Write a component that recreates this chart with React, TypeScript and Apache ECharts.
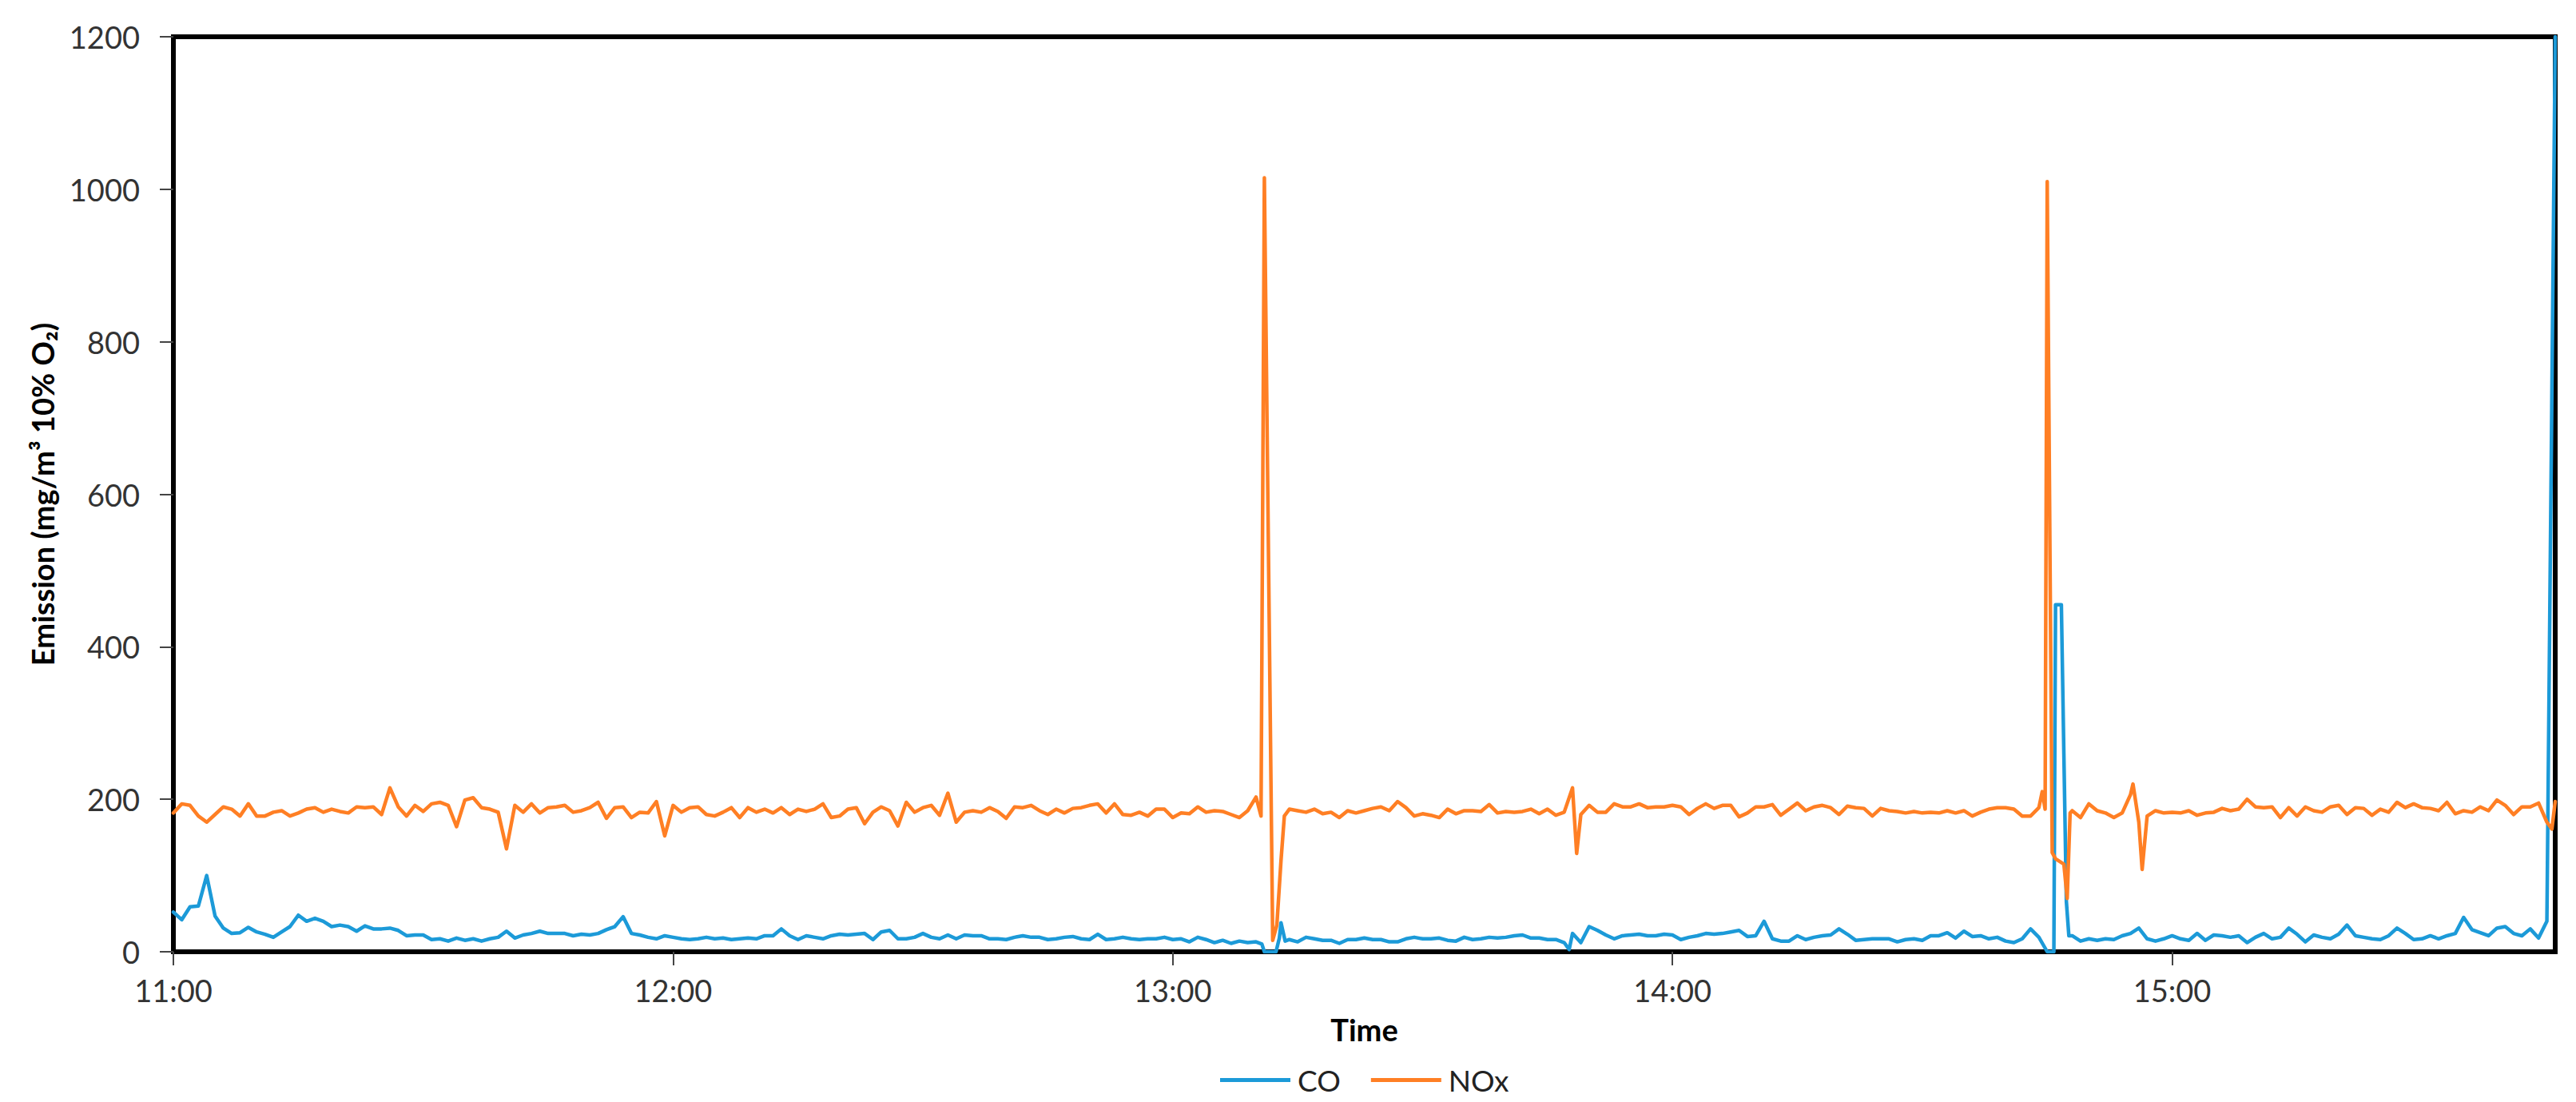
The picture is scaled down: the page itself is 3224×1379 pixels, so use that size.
import React, { useEffect, useRef } from 'react';
import * as echarts from 'echarts';

// Time axis: minutes after 11:00
const TIME_LABELS = ['11:00', '12:00', '13:00', '14:00', '15:00'];
const X_MAX_MINUTES = 286;
const Y_TICKS = [0, 200, 400, 600, 800, 1000, 1200];

// CO, one value per minute from 11:00 (index = minute)
const CO = [
  52, 42, 59, 60, 100, 47, 31, 24, 25, 32,
  26, 23, 19, 26, 33, 48, 40, 44, 40, 33,
  35, 33, 27, 34, 30, 30, 31, 28, 21, 22,
  22, 16, 17, 14, 18, 15, 17, 14, 17, 19,
  27, 18, 22, 24, 27, 24, 24, 24, 21, 23,
  22, 24, 29, 33, 46, 24, 22, 19, 17, 21,
  19, 17, 16, 17, 19, 17, 18, 16, 17, 18,
  17, 21, 21, 30, 21, 16, 21, 19, 17, 21,
  23, 22, 23, 24, 16, 26, 28, 17, 17, 19,
  24, 19, 17, 22, 17, 22, 21, 21, 17, 17,
  16, 19, 21, 19, 19, 16, 17, 19, 20, 17,
  16, 23, 16, 17, 19, 17, 16, 17, 17, 19,
  16, 17, 13, 19, 16, 12, 15, 11, 14, 12,
  13, 0, 0, 38, 16, 13, 19, 17, 15, 15,
  11, 16, 16, 18, 16, 16, 13, 13, 17, 19,
  17, 17, 18, 15, 14, 19, 16, 17, 19, 18,
  19, 21, 22, 18, 18, 16, 16, 12, 24, 12,
  33, 28, 22, 17, 21, 22, 23, 21, 21, 23,
  22, 16, 19, 21, 24, 23, 24, 26, 28, 20,
  21, 40, 17, 14, 14, 21, 16, 19, 21, 22,
  30, 23, 15, 16, 17, 17, 17, 13, 16, 17,
  15, 21, 21, 25, 18, 27, 20, 21, 17, 19,
  14, 12, 17, 30, 19, 0, 455, 260, 21, 14,
  17, 15, 17, 16, 21, 24, 31, 17, 14, 17,
  21, 17, 15, 24, 15, 22, 21, 19, 21, 12,
  19, 24, 17, 19, 31, 23, 13, 22, 19, 17,
  23, 35, 21, 19, 17, 16, 21, 31, 24, 16,
  17, 21, 17, 21, 24, 45, 29, 25, 21, 31,
  33, 24, 21, 30, 18, 40, 1200,
];

// NOx, one value per minute from 11:00 (index = minute)
const NOX = [
  182, 194, 192, 178, 170, 180, 190, 187, 178, 194,
  178, 178, 183, 185, 178, 182, 187, 189, 183, 187,
  184, 182, 190, 189, 190, 180, 215, 190, 178, 192,
  184, 194, 196, 192, 164, 199, 202, 189, 187, 183,
  135, 192, 183, 194, 182, 189, 190, 192, 183, 185,
  189, 196, 175, 189, 190, 176, 183, 182, 197, 152,
  192, 183, 189, 190, 180, 178, 183, 189, 176, 189,
  183, 187, 182, 189, 180, 187, 184, 187, 194, 176,
  178, 187, 189, 168, 183, 190, 185, 165, 196, 183,
  189, 192, 179, 208, 170, 183, 185, 183, 189, 184,
  175, 190, 189, 192, 185, 180, 187, 182, 188, 189,
  192, 194, 182, 194, 180, 179, 183, 178, 187, 187,
  176, 182, 181, 190, 183, 185, 184, 180, 176, 185,
  203, 1015, 15, 120, 187, 185, 183, 187, 181, 183,
  176, 185, 182, 185, 188, 190, 185, 197, 189, 178,
  181, 179, 176, 187, 181, 185, 185, 184, 193, 182,
  184, 183, 184, 187, 181, 187, 179, 183, 215, 180,
  192, 183, 183, 194, 190, 190, 194, 189, 190, 190,
  192, 190, 180, 188, 194, 188, 192, 192, 177, 182,
  190, 190, 193, 179, 187, 195, 185, 190, 192, 189,
  180, 191, 189, 188, 178, 188, 185, 184, 182, 184,
  182, 183, 182, 185, 182, 185, 178, 183, 187, 189,
  189, 187, 178, 178, 189, 1010, 122, 115, 185, 176,
  194, 185, 182, 176, 182, 206, 170, 178, 185, 182,
  183, 182, 185, 179, 182, 183, 188, 185, 187, 200,
  190, 189, 190, 176, 189, 178, 190, 185, 183, 190,
  192, 180, 189, 188, 179, 187, 183, 196, 189, 194,
  189, 188, 185, 196, 181, 185, 183, 190, 185, 199,
  192, 180, 190, 190, 195, 170, 197,
];

// Extra sub-minute readings around the fast events: [minute, value]
const CO_DETAIL: [number, number][] = [
  [130.7, 10], [132.4, 0], [132.8, 18], [133.5, 14],
  [167.6, 3],
  [225.8, 0], [226.7, 455], [227.3, 66], [227.6, 21],
];
const NOX_DETAIL: [number, number][] = [
  [130.6, 178], [132.5, 35], [133.4, 178],
  [168.5, 129],
  [224.4, 210], [224.75, 187], [225.6, 130], [227.4, 70], [227.75, 182],
  [235.3, 220], [236.4, 108],
  [285.6, 161],
];

const CO_COLOR = '#1C9AD8';
const NOX_COLOR = '#FF7F24';
const FONT = 'Lato, "Open Sans", "Noto Sans", sans-serif';

function mergeSeries(base: number[], detail: [number, number][]): [number, number][] {
  const pts: [number, number][] = base.map((v, i) => [i, v] as [number, number]);
  return pts.concat(detail).sort((a, b) => a[0] - b[0]);
}

export default function App() {
  const ref = useRef<HTMLDivElement>(null);

  useEffect(() => {
    if (!ref.current) return;
    const chart = echarts.init(ref.current, undefined, { renderer: 'svg' });
    chart.setOption({
      animation: false,
      backgroundColor: '#ffffff',
      grid: {
        left: 217,
        right: 26,
        top: 46,
        bottom: 188,
        show: true,
        borderColor: '#000',
        borderWidth: 6,
        backgroundColor: 'transparent',
      },
      legend: {
        data: ['CO', 'NOx'],
        left: 1522,
        top: 1328,
        icon: 'rect',
        itemWidth: 88,
        itemHeight: 5,
        itemGap: 38,
        textStyle: {
          fontFamily: FONT,
          fontSize: 37,
          color: '#222',
          padding: [0, 0, 0, 4],
        },
      },
      xAxis: {
        type: 'value',
        min: 0,
        max: X_MAX_MINUTES,
        interval: 60,
        name: 'Time',
        nameLocation: 'middle',
        nameGap: 78,
        nameTextStyle: {
          fontFamily: FONT,
          fontSize: 38,
          fontWeight: 'bold',
          color: '#000',
        },
        axisLine: { show: true, onZero: false, lineStyle: { color: '#000', width: 6 } },
        axisTick: { show: true, length: 17, lineStyle: { color: '#444', width: 2 } },
        axisLabel: {
          margin: 29,
          fontFamily: FONT,
          fontSize: 38,
          color: '#333',
          showMaxLabel: false,
          formatter: (v: number) => (v % 60 === 0 ? TIME_LABELS[v / 60] ?? '' : ''),
        },
        splitLine: { show: false },
      },
      yAxis: {
        type: 'value',
        min: Y_TICKS[0],
        max: Y_TICKS[Y_TICKS.length - 1],
        interval: Y_TICKS[1] - Y_TICKS[0],
        name: 'Emission (mg/m³ 10% O₂)',
        nameLocation: 'middle',
        nameRotate: 90,
        nameGap: 145,
        nameTextStyle: {
          fontFamily: FONT,
          fontSize: 38,
          fontWeight: 'bold',
          color: '#000',
        },
        axisLine: { show: true, lineStyle: { color: '#000', width: 6 } },
        axisTick: { show: true, length: 17, lineStyle: { color: '#444', width: 2 } },
        axisLabel: {
          margin: 42,
          fontFamily: FONT,
          fontSize: 38,
          color: '#333',
          formatter: (v: number) => String(v),
        },
        splitLine: { show: false },
      },
      series: [
        {
          name: 'CO',
          type: 'line',
          data: mergeSeries(CO, CO_DETAIL),
          showSymbol: false,
          symbol: 'none',
          color: CO_COLOR,
          lineStyle: { color: CO_COLOR, width: 4.5, join: 'round', cap: 'round' },
          z: 3,
        },
        {
          name: 'NOx',
          type: 'line',
          data: mergeSeries(NOX, NOX_DETAIL),
          showSymbol: false,
          symbol: 'none',
          color: NOX_COLOR,
          lineStyle: { color: NOX_COLOR, width: 4.5, join: 'round', cap: 'round' },
          z: 4,
        },
      ],
    });
    return () => chart.dispose();
  }, []);

  return (
    <div
      ref={ref}
      style={{ position: 'fixed', left: 0, top: 0, width: 3224, height: 1379, background: '#fff' }}
    />
  );
}
